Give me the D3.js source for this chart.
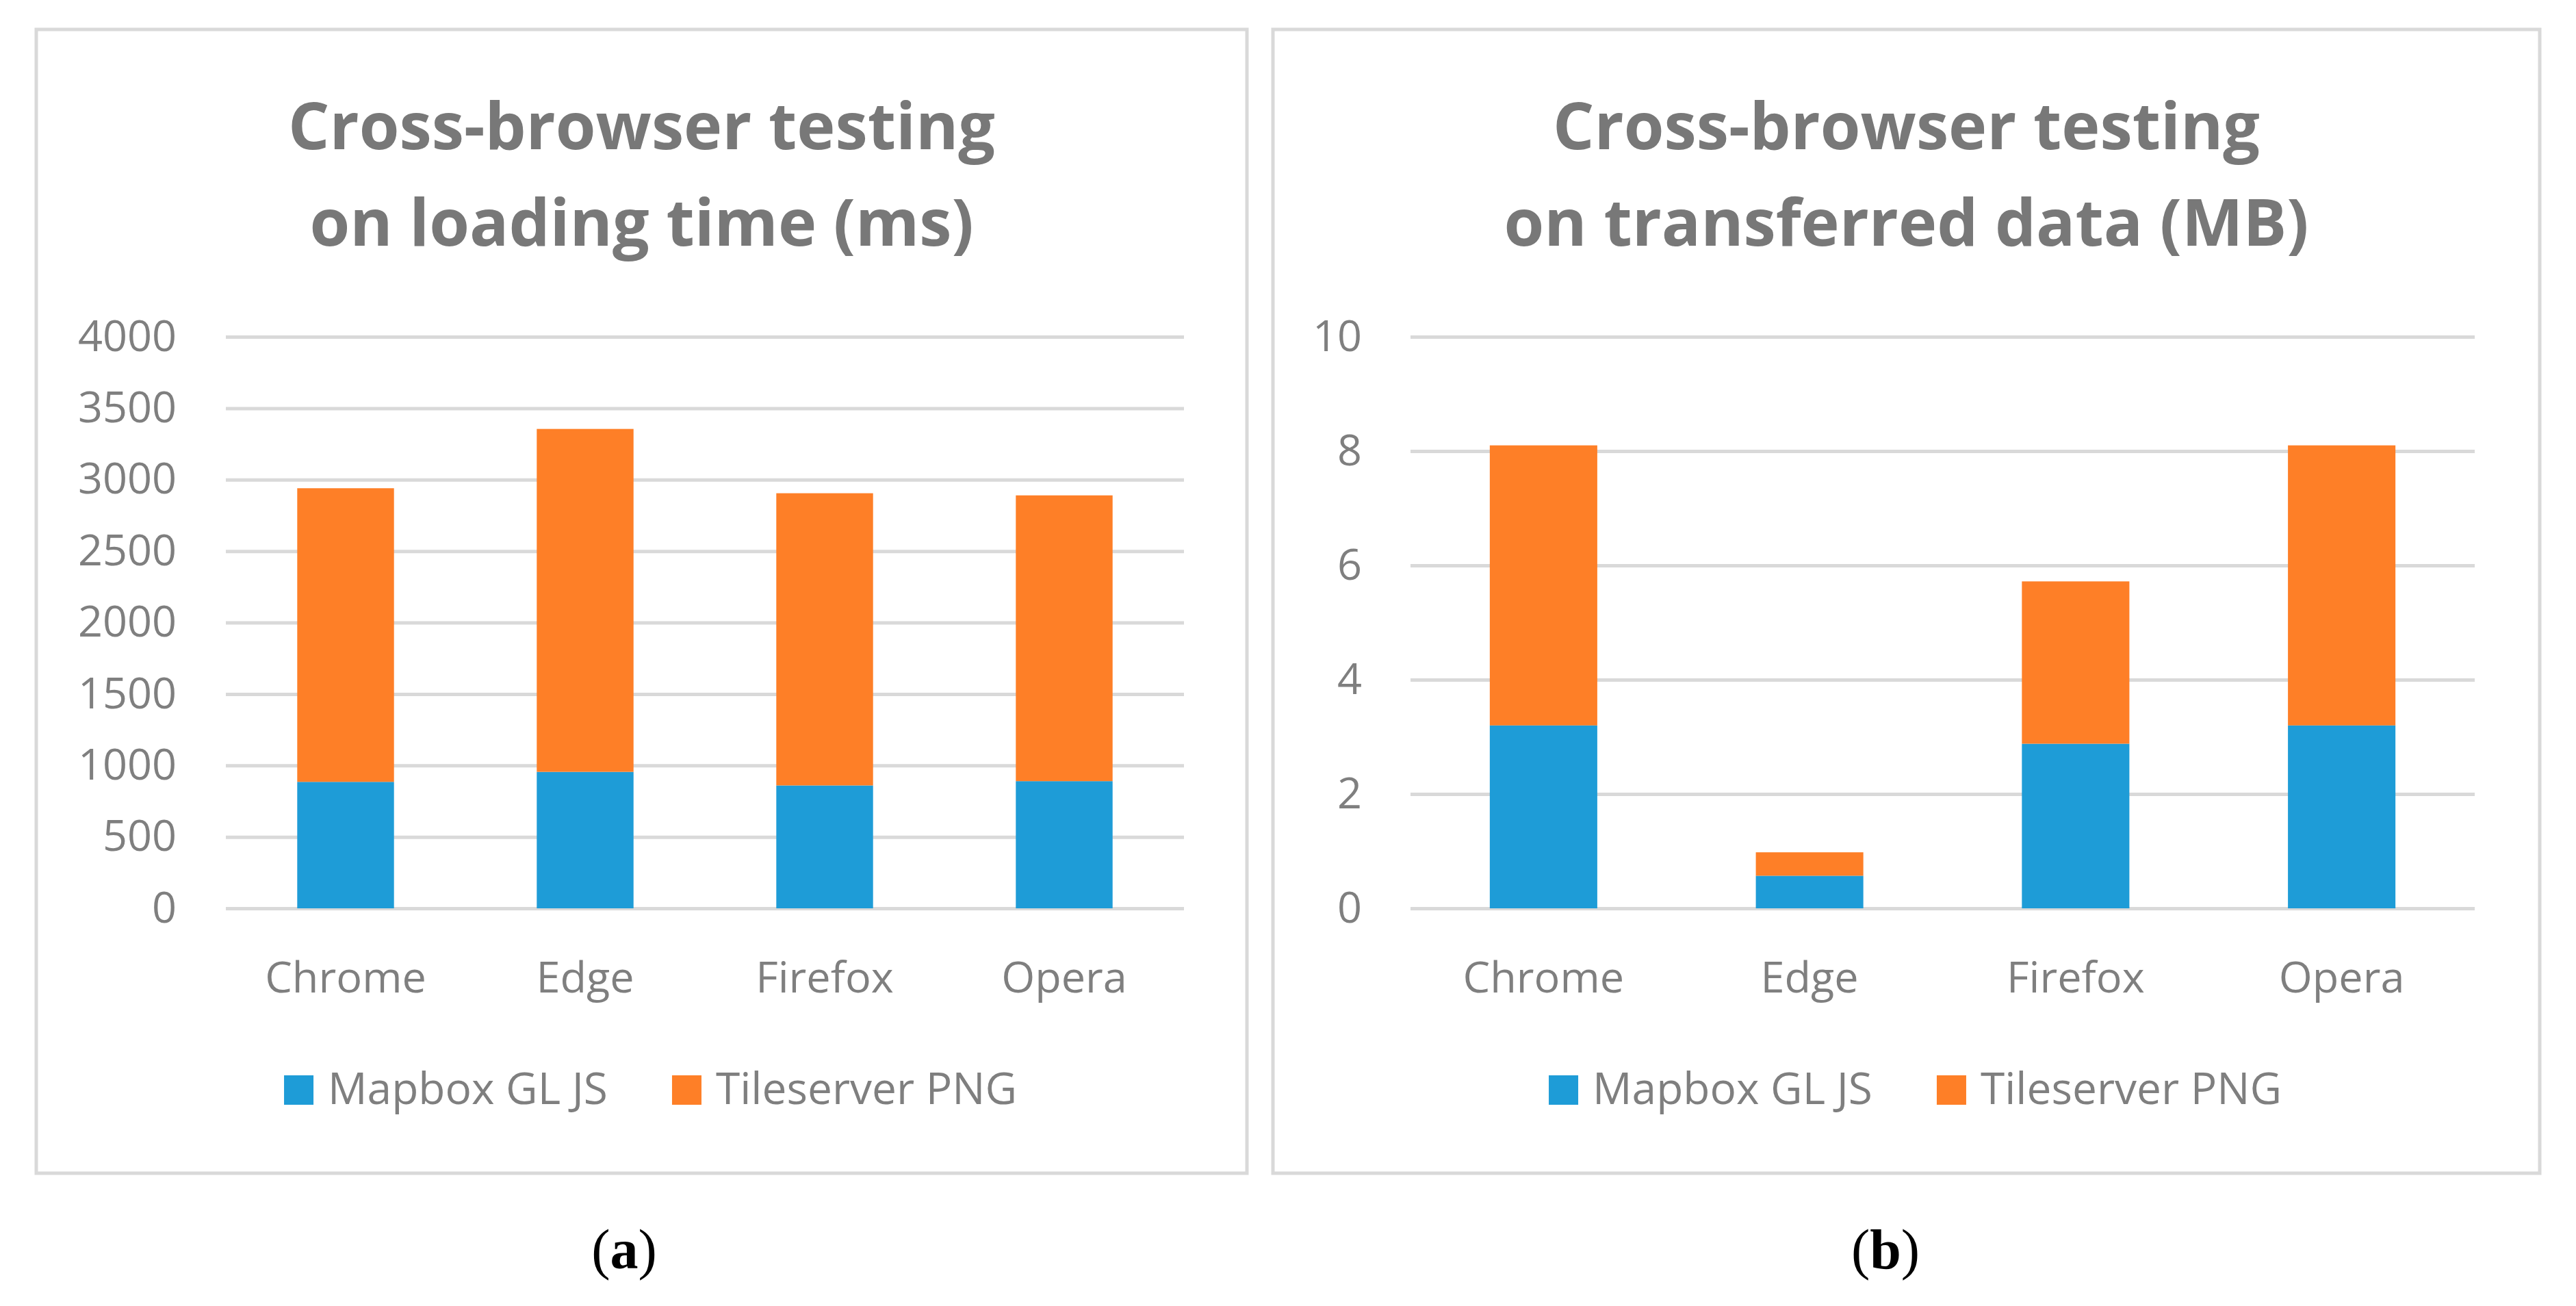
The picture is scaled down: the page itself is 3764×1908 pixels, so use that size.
<!DOCTYPE html>
<html lang="en">
<head>
<meta charset="UTF-8">
<title>Cross-browser testing</title>
<script src="https://cdn.jsdelivr.net/npm/d3@7"></script>
<style>
  body { margin: 0; background: #fff; }
  text { font-family: "Open Sans", sans-serif; }
</style>
</head>
<body>
<svg id="fig" width="3764" height="1908"></svg>
<script>
var browsers = ["Chrome", "Edge", "Firefox", "Opera"];
var seriesNames = ["Mapbox GL JS", "Tileserver PNG"];
var colors = ["#1e9cd7", "#fe7f27"];

// loading time (ms) - stacked parts
var timeMapbox = [885, 955, 860, 890];
var timeTileserver = [2055, 2400, 2045, 2000];
var timeTicks = [0, 500, 1000, 1500, 2000, 2500, 3000, 3500, 4000];

// transferred data (MB) - stacked parts
var dataMapbox = [3.2, 0.57, 2.88, 3.2];
var dataTileserver = [4.9, 0.41, 2.84, 4.9];
var dataTicks = [0, 2, 4, 6, 8, 10];

var titlesA = ["Cross-browser testing", "on loading time (ms)"];
var titlesB = ["Cross-browser testing", "on transferred data (MB)"];
var panelLabels = ["a", "b"];

var svg = d3.select("#fig");
var grey = "#7f7f7f";
var gridColor = "#d9d9d9";

// one chart panel
function drawPanel(p) {
  var g = svg.append("g");

  g.append("rect")
    .attr("x", p.left).attr("y", 43)
    .attr("width", p.right - p.left).attr("height", 1671)
    .attr("fill", "#fff")
    .attr("stroke", gridColor).attr("stroke-width", 5);

  var cx = (p.left + p.right) / 2;

  g.selectAll(".title").data(p.titles).enter()
    .append("text")
    .attr("class", "title")
    .attr("x", cx)
    .attr("y", function(d, i) { return 218 + i * 141; })
    .attr("text-anchor", "middle")
    .attr("font-size", 95)
    .attr("font-weight", "bold")
    .attr("fill", "#787878")
    .text(function(d) { return d; });

  var x = d3.scaleBand().domain(browsers).range([p.plotLeft, p.plotRight]).padding(0);
  var y = d3.scaleLinear().domain([0, p.ticks[p.ticks.length - 1]]).range([1327, 492]);

  var yAxis = d3.axisLeft(y)
    .tickValues(p.ticks)
    .tickFormat(d3.format("d"))
    .tickSize(-(p.plotRight - p.plotLeft))
    .tickPadding(p.pad);
  var ya = g.append("g")
    .attr("transform", "translate(" + p.plotLeft + ",0)")
    .call(yAxis);
  ya.select(".domain").remove();
  ya.selectAll(".tick line").attr("stroke", gridColor).attr("stroke-width", 5);
  ya.selectAll(".tick text")
    .attr("font-size", 63).attr("fill", grey);

  var xAxis = d3.axisBottom(x).tickSize(0).tickPadding(78);
  var xa = g.append("g")
    .attr("transform", "translate(0,1327)")
    .call(xAxis);
  xa.select(".domain").remove();
  xa.selectAll(".tick text")
    .attr("font-size", 63).attr("fill", grey);

  var rows = browsers.map(function(b, i) {
    return { browser: b, mapbox: p.mapbox[i], tileserver: p.tileserver[i] };
  });
  var stacked = d3.stack().keys(["mapbox", "tileserver"])(rows);
  var bw = x.bandwidth() * 0.404;

  g.selectAll(".layer").data(stacked).enter()
    .append("g")
    .attr("fill", function(d, i) { return colors[i]; })
    .selectAll("rect").data(function(d) { return d; }).enter()
    .append("rect")
    .attr("x", function(d) { return x(d.data.browser) + (x.bandwidth() - bw) / 2; })
    .attr("width", bw)
    .attr("y", function(d) { return y(d[1]); })
    .attr("height", function(d) { return y(d[0]) - y(d[1]); });

  // legend
  var lg = g.append("g");
  var pos = 0;
  seriesNames.forEach(function(name, i) {
    lg.append("rect")
      .attr("x", pos).attr("y", 1571)
      .attr("width", 43).attr("height", 43)
      .attr("fill", colors[i]);
    var t = lg.append("text")
      .attr("x", pos + 64).attr("y", 1613)
      .attr("font-size", 64).attr("fill", grey)
      .text(name);
    pos = pos + 64 + t.node().getComputedTextLength() + 94;
  });
  var lw = pos - 94;
  lg.attr("transform", "translate(" + (cx + 13 - lw / 2) + ",0)");

  // (a) / (b)
  var lab = svg.append("text")
    .attr("x", p.labelX).attr("y", 1853)
    .attr("text-anchor", "middle")
    .attr("font-size", 82)
    .style("font-family", "'Liberation Serif', serif")
    .attr("fill", "#000");
  lab.append("tspan").text("(");
  lab.append("tspan").attr("font-weight", "bold").text(p.label);
  lab.append("tspan").text(")");
}

drawPanel({
  left: 53, right: 1822,
  plotLeft: 330, plotRight: 1730, pad: 72,
  titles: titlesA,
  mapbox: timeMapbox, tileserver: timeTileserver, ticks: timeTicks,
  labelX: 912, label: panelLabels[0]
});

drawPanel({
  left: 1860, right: 3711,
  plotLeft: 2061, plotRight: 3616, pad: 71,
  titles: titlesB,
  mapbox: dataMapbox, tileserver: dataTileserver, ticks: dataTicks,
  labelX: 2755, label: panelLabels[1]
});
</script>
</body>
</html>
